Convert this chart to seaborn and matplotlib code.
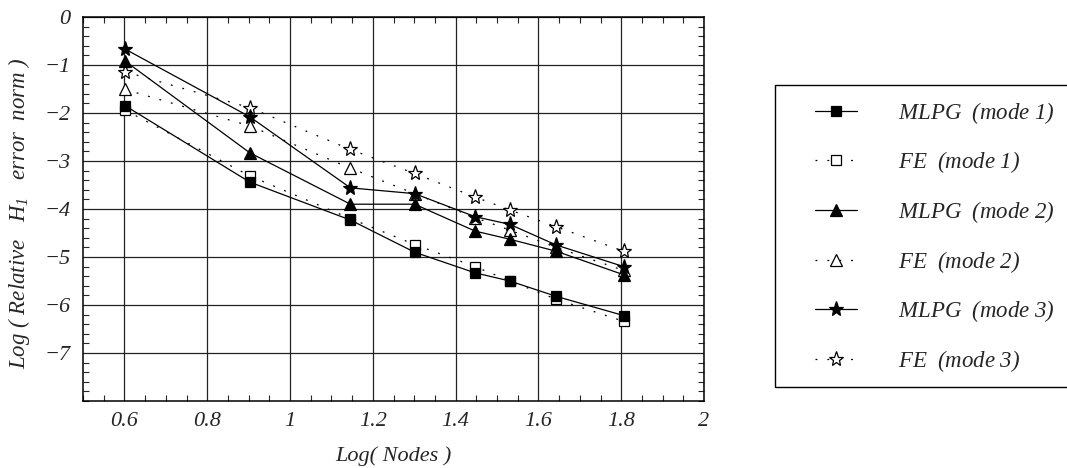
import matplotlib
matplotlib.use("Agg")
import matplotlib.pyplot as plt
import seaborn as sns
from matplotlib.patches import Rectangle
from matplotlib.ticker import FixedLocator, FixedFormatter, MultipleLocator

# log10 of node counts
log_nodes = [0.602, 0.903, 1.146, 1.301, 1.447, 1.531, 1.643, 1.806]

mlpg_mode1 = [-1.85, -3.44, -4.23, -4.90, -5.33, -5.50, -5.82, -6.22]
fe_mode1 = [-1.94, -3.31, -4.20, -4.74, -5.20, -5.50, -5.88, -6.34]
mlpg_mode2 = [-0.92, -2.83, -3.90, -3.90, -4.46, -4.63, -4.88, -5.37]
fe_mode2 = [-1.51, -2.27, -3.15, -3.68, -4.18, -4.44, -4.80, -5.28]
mlpg_mode3 = [-0.67, -2.08, -3.56, -3.68, -4.16, -4.32, -4.75, -5.20]
fe_mode3 = [-1.14, -1.89, -2.76, -3.26, -3.75, -4.02, -4.37, -4.88]

x_ticks = [0.6, 0.8, 1.0, 1.2, 1.4, 1.6, 1.8, 2.0]
x_ticklabels = ["0.6", "0.8", "1", "1.2", "1.4", "1.6", "1.8", "2"]
y_ticks = [0, -1, -2, -3, -4, -5, -6, -7]
y_ticklabels = ["0", "\u22121", "\u22122", "\u22123", "\u22124", "\u22125", "\u22126", "\u22127"]

sns.set_style("ticks")
plt.rcParams["font.family"] = ["Liberation Serif", "DejaVu Serif"]
plt.rcParams["font.style"] = "italic"
plt.rcParams["mathtext.fontset"] = "custom"
plt.rcParams["mathtext.rm"] = "Liberation Serif"
plt.rcParams["mathtext.it"] = "Liberation Serif:italic"
plt.rcParams["mathtext.bf"] = "Liberation Serif:bold"

fig = plt.figure(figsize=(10.67, 4.68), dpi=100)
ax = fig.add_axes([83 / 1067, 1 - 401 / 468, 621 / 1067, 384 / 468])

dotted = (0, (1.5, 8))
series = [
    # (values, label, marker, size, filled, linestyle)
    (fe_mode1, r"$\mathit{FE}\ \ (\mathit{mode\ 1})$", "s", 7.5, False, dotted),
    (fe_mode2, r"$\mathit{FE}\ \ (\mathit{mode\ 2})$", "^", 8.5, False, dotted),
    (fe_mode3, r"$\mathit{FE}\ \ (\mathit{mode\ 3})$", "*", 11, False, dotted),
    (mlpg_mode1, r"$\mathit{MLPG}\ \ (\mathit{mode\ 1})$", "s", 7.5, True, "-"),
    (mlpg_mode2, r"$\mathit{MLPG}\ \ (\mathit{mode\ 2})$", "^", 8.5, True, "-"),
    (mlpg_mode3, r"$\mathit{MLPG}\ \ (\mathit{mode\ 3})$", "*", 11, True, "-"),
]

handles = {}
for vals, label, mk, ms, filled, ls in series:
    sns.lineplot(x=log_nodes, y=vals, ax=ax, color="black", linewidth=0.9,
                 linestyle=ls, marker=mk, markersize=ms, markeredgewidth=0.9,
                 markeredgecolor="black",
                 markerfacecolor="black" if filled else "white",
                 label=label, legend=False)
    handles[label] = ax.lines[-1]

ax.set_xlim(0.5, 2.0)
ax.set_ylim(-8, 0)
ax.xaxis.set_major_locator(FixedLocator(x_ticks))
ax.xaxis.set_major_formatter(FixedFormatter(x_ticklabels))
ax.yaxis.set_major_locator(FixedLocator(y_ticks))
ax.yaxis.set_major_formatter(FixedFormatter(y_ticklabels))
ax.xaxis.set_minor_locator(MultipleLocator(0.05))
ax.yaxis.set_minor_locator(MultipleLocator(0.2))
ax.tick_params(which="both", direction="in", top=True, right=True, labelsize=16)
ax.tick_params(axis="x", which="major", pad=8)
ax.tick_params(axis="y", which="major", pad=9)
ax.tick_params(which="major", length=0)
ax.tick_params(which="minor", length=4, width=0.8)
ax.grid(True, which="major", color="#222222", linewidth=0.9)
for s in ax.spines.values():
    s.set_linewidth(1.1)
    s.set_color("black")

ax.set_xlabel("Log( Nodes )", fontsize=16)
ax.xaxis.set_label_coords(0.5, -0.118)
ax.set_ylabel(r"Log ( Relative   $H_1$   error  norm )", fontsize=16.5)
ax.yaxis.set_label_coords(-0.082, 0.49)

order = [series[3][1], series[0][1], series[4][1], series[1][1], series[5][1], series[2][1]]
leg = fig.legend([handles[k] for k in order], order, loc="upper left",
                 bbox_to_anchor=(815 / 1067, 1 - 100 / 468), frameon=False,
                 fontsize=16.5, borderpad=0, borderaxespad=0, handlelength=1.83,
                 handletextpad=1.8, labelspacing=1.03)

fig.patches.append(Rectangle((775 / 1067, 1 - 387 / 468), 0.3, 302 / 468,
                             transform=fig.transFigure, fill=False,
                             linewidth=1.0, edgecolor="black", clip_on=False))

fig.savefig("out.png", dpi=100)
